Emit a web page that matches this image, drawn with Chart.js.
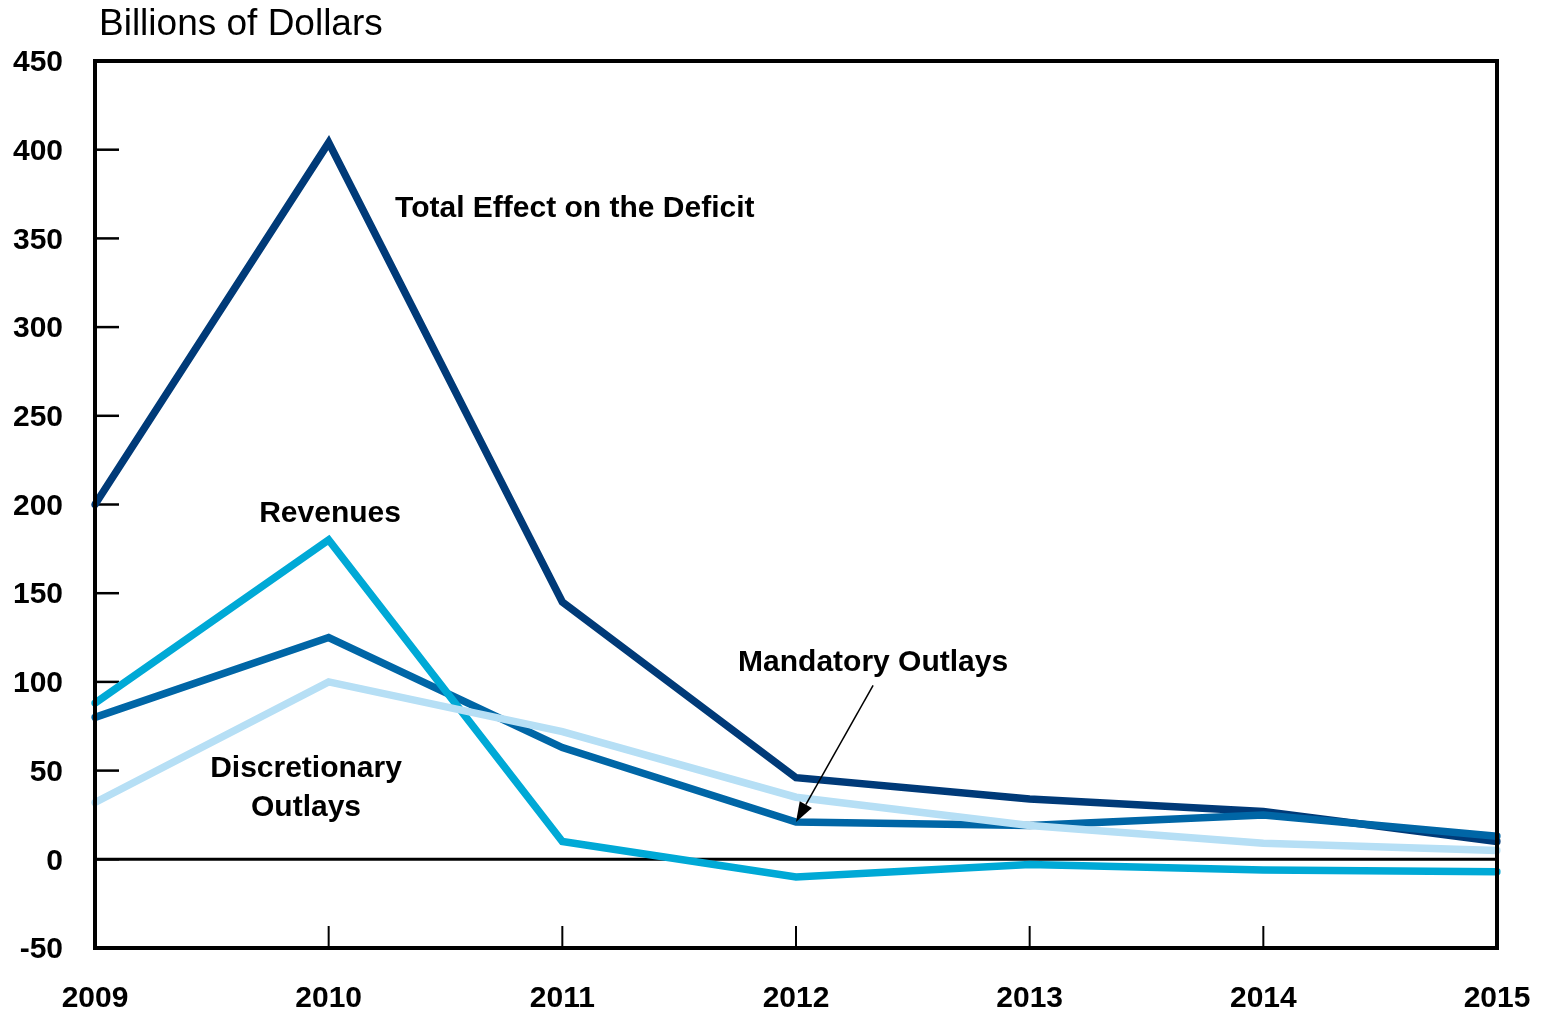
<!DOCTYPE html>
<html>
<head>
<meta charset="utf-8">
<script src="https://cdn.jsdelivr.net/npm/chart.js@4.4.0/dist/chart.umd.min.js"></script>
<style>
  html, body { margin: 0; padding: 0; background: #fff; }
  #wrap { width: 1545px; height: 1015px; }
</style>
</head>
<body>
<div id="wrap"><canvas id="chart" width="1545" height="1015"></canvas></div>
<script>
const years = ["2009", "2010", "2011", "2012", "2013", "2014", "2015"];
const totalEffect = [200, 404, 145, 46, 34, 27, 10];
const revenues = [88, 180, 10, -10, -3, -6, -7];
const mandatory = [80, 125, 63, 21, 19, 25, 13];
const discretionary = [32, 100, 72, 35, 19, 9, 5];
const yTicks = [-50, 0, 50, 100, 150, 200, 250, 300, 350, 400, 450];

const sans = "'Liberation Sans', Arial, sans-serif";

// series labels, placed in data coordinates (x = category index)
const notes = [
  { text: "Total Effect on the Deficit", x: 1.284, y: 367, align: "left" },
  { text: "Revenues", x: 1.006, y: 195, align: "center" },
  { text: "Mandatory Outlays", x: 3.33, y: 111, align: "center" },
  { text: "Discretionary", x: 0.903, y: 51, align: "center" },
  { text: "Outlays", x: 0.903, y: 29, align: "center" }
];
const arrowFrom = { x: 3.33, y: 98 };
const arrowTo = { x: 3.0, y: 21 };

const frame = {
  id: "frame",
  beforeDatasetsDraw(chart) {
    const { ctx, chartArea: a, scales: { x, y } } = chart;
    ctx.save();
    ctx.strokeStyle = "#000";
    ctx.lineWidth = 2.5;
    yTicks.forEach(v => {
      const py = y.getPixelForValue(v);
      ctx.beginPath();
      ctx.moveTo(a.left, py);
      ctx.lineTo(a.left + 24, py);
      ctx.stroke();
    });
    ctx.lineWidth = 2;
    years.forEach((_, i) => {
      const px = x.getPixelForValue(i);
      ctx.beginPath();
      ctx.moveTo(px, a.bottom);
      ctx.lineTo(px, a.bottom - 22);
      ctx.stroke();
    });
    const zy = y.getPixelForValue(0);
    ctx.lineWidth = 3;
    ctx.beginPath();
    ctx.moveTo(a.left, zy);
    ctx.lineTo(a.right, zy);
    ctx.stroke();
    ctx.restore();
  },
  afterDatasetsDraw(chart) {
    const { ctx, chartArea: a, scales: { x, y } } = chart;
    ctx.save();
    ctx.strokeStyle = "#000";
    ctx.lineWidth = 4;
    ctx.strokeRect(a.left, a.top, a.right - a.left, a.bottom - a.top);

    ctx.fillStyle = "#000";
    ctx.font = "bold 30px " + sans;
    ctx.textBaseline = "middle";
    notes.forEach(n => {
      ctx.textAlign = n.align;
      ctx.fillText(n.text, x.getPixelForValue(n.x), y.getPixelForValue(n.y));
    });

    // pointer from the Mandatory Outlays label
    const x1 = x.getPixelForValue(arrowFrom.x), y1 = y.getPixelForValue(arrowFrom.y);
    const x2 = x.getPixelForValue(arrowTo.x), y2 = y.getPixelForValue(arrowTo.y);
    const ang = Math.atan2(y2 - y1, x2 - x1);
    const head = 20, half = 7;
    ctx.lineWidth = 1.5;
    ctx.beginPath();
    ctx.moveTo(x1, y1);
    ctx.lineTo(x2 - Math.cos(ang) * head, y2 - Math.sin(ang) * head);
    ctx.stroke();
    ctx.beginPath();
    ctx.moveTo(x2, y2);
    ctx.lineTo(x2 - Math.cos(ang) * head - Math.sin(ang) * half, y2 - Math.sin(ang) * head + Math.cos(ang) * half);
    ctx.lineTo(x2 - Math.cos(ang) * head + Math.sin(ang) * half, y2 - Math.sin(ang) * head - Math.cos(ang) * half);
    ctx.closePath();
    ctx.fill();

    // unit caption above the frame
    ctx.font = "37px " + sans;
    ctx.textAlign = "left";
    ctx.textBaseline = "alphabetic";
    ctx.fillText("Billions of Dollars", a.left + 4, 35);
    ctx.restore();
  }
};

function series(data, color) {
  return {
    data,
    borderColor: color,
    borderWidth: 7.5,
    pointRadius: 0,
    tension: 0,
    fill: false,
    borderCapStyle: "round",
    borderJoinStyle: "miter"
  };
}

new Chart(document.getElementById("chart"), {
  type: "line",
  data: {
    labels: years,
    datasets: [
      series(discretionary, "#b6dff5"),
      series(revenues, "#00a9d6"),
      series(mandatory, "#0066a6"),
      series(totalEffect, "#003a78")
    ]
  },
  options: {
    responsive: false,
    animation: false,
    events: [],
    layout: { padding: { top: 61, right: 48, left: 0, bottom: 0 } },
    plugins: { legend: { display: false }, tooltip: { enabled: false } },
    scales: {
      x: {
        offset: false,
        grid: { display: false, drawTicks: false },
        border: { display: false },
        ticks: { color: "#000", padding: 33, maxRotation: 0, font: { family: sans, weight: "bold", size: 30 } },
        afterFit(s) { s.height = 67; s.paddingLeft = 0; s.paddingRight = 0; }
      },
      y: {
        min: -50,
        max: 450,
        afterBuildTicks(s) { s.ticks = yTicks.map(v => ({ value: v })); },
        grid: { display: false, drawTicks: false },
        border: { display: false },
        ticks: { color: "#000", padding: 32, labelOffset: 2, font: { family: sans, weight: "bold", size: 30 } },
        afterFit(s) { s.width = 95; s.paddingTop = 0; s.paddingBottom = 0; }
      }
    }
  },
  plugins: [frame]
});
</script>
</body>
</html>
